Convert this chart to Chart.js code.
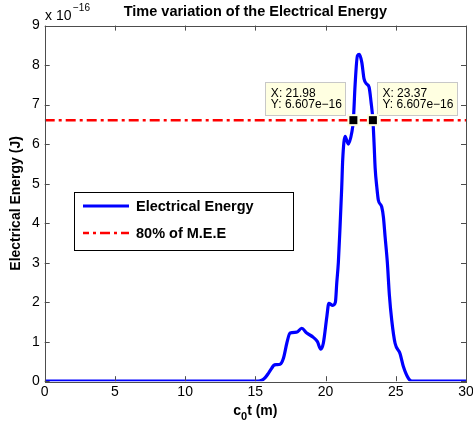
<!DOCTYPE html>
<html><head><meta charset="utf-8">
<script src="https://cdn.jsdelivr.net/npm/chart.js@4/dist/chart.umd.min.js"></script>
<style>html,body{margin:0;padding:0;background:#fff;overflow:hidden}#wrap{width:473px;height:425px;position:relative}</style>
</head><body><div id="wrap"><canvas id="c" width="473" height="425"></canvas></div>
<script>
// c0t (m)
const timeX = [0, 15.2, 15.5, 15.7, 15.93, 16.17, 16.3, 16.5, 16.76, 17.0, 17.24, 17.47, 17.95, 18.3, 18.66, 19.13, 19.42, 19.66, 19.84, 20.09, 20.23, 20.51, 20.7, 20.8, 20.91, 21.03, 21.15, 21.22, 21.39, 21.62, 21.87, 21.98, 22.1, 22.27, 22.4, 22.58, 22.74, 22.93, 23.1, 23.24, 23.37, 23.45, 23.53, 23.65, 23.76, 24.0, 24.12, 24.24, 24.4, 24.54, 24.71, 24.95, 25.3, 25.54, 25.9, 26.14, 30];
// Electrical energy, x 1e-16 J
const energy = [0, 0, 0.03, 0.09, 0.2, 0.33, 0.4, 0.42, 0.43, 0.58, 0.96, 1.22, 1.24, 1.34, 1.22, 1.11, 1.0, 0.81, 0.96, 1.63, 1.97, 1.92, 2.0, 2.5, 3.0, 3.9, 4.9, 5.6, 6.2, 6.0, 6.3, 6.607, 7.48, 8.24, 8.27, 8.07, 7.65, 7.52, 7.44, 7.06, 6.607, 6.05, 5.4, 4.91, 4.58, 4.41, 4.15, 3.65, 3.0, 2.2, 1.55, 0.96, 0.7, 0.37, 0.07, 0, 0];
const thresholdX = [0, 30];
const thresholdY = [6.607, 6.607];
const xTicks = [0, 5, 10, 15, 20, 25, 30];
const yTicks = [0, 1, 2, 3, 4, 5, 6, 7, 8, 9];
const tipX = [21.98, 23.37];
const tipY = [6.607, 6.607];
const tipLabelsX = ['21.98', '23.37'];
const tipLabelsY = ['6.607e\u221216', '6.607e\u221216'];
const seriesNames = ['Electrical Energy', '80% of M.E.E'];

const FONT = 'Arial, "Liberation Sans", sans-serif';
const DASH = [10, 4, 3, 4];

const overlay = {
  id: 'overlay',
  afterDraw(chart) {
    const ctx = chart.ctx, a = chart.chartArea;
    const xs = chart.scales.x, ys = chart.scales.y;
    ctx.save();
    // box
    ctx.strokeStyle = '#4d4d4d'; ctx.lineWidth = 1;
    ctx.strokeRect(Math.round(a.left) + 0.5, Math.round(a.top) + 0.5, Math.round(a.right - a.left), Math.round(a.bottom - a.top));
    // inward ticks
    const tl = 5;
    ctx.beginPath();
    xTicks.forEach(v => {
      const p = Math.round(xs.getPixelForValue(v)) + 0.5;
      ctx.moveTo(p, a.bottom); ctx.lineTo(p, a.bottom - tl);
      ctx.moveTo(p, a.top); ctx.lineTo(p, a.top + tl);
    });
    yTicks.forEach(v => {
      const p = Math.round(ys.getPixelForValue(v)) + 0.5;
      ctx.moveTo(a.left, p); ctx.lineTo(a.left + tl, p);
      ctx.moveTo(a.right, p); ctx.lineTo(a.right - tl, p);
    });
    ctx.stroke();

    // title
    ctx.fillStyle = '#000';
    ctx.font = 'bold 14.5px ' + FONT;
    ctx.textAlign = 'center'; ctx.textBaseline = 'middle';
    ctx.fillText('Time variation of the Electrical Energy', (a.left + a.right) / 2, 12);
    // exponent
    ctx.font = '14px ' + FONT; ctx.textAlign = 'left'; ctx.textBaseline = 'alphabetic';
    ctx.fillText('x 10', 45, 20);
    ctx.font = '10px ' + FONT;
    ctx.fillText('\u221216', 73, 11);
    // x label
    ctx.font = 'bold 14px ' + FONT;
    const cx = (a.left + a.right) / 2;
    const w1 = ctx.measureText('c').width;
    ctx.font = 'bold 11px ' + FONT;
    const w2 = ctx.measureText('0').width;
    ctx.font = 'bold 14px ' + FONT;
    const w3 = ctx.measureText('t (m)').width;
    let sx = cx - (w1 + w2 + w3) / 2;
    const by = 415;
    ctx.fillText('c', sx, by); sx += w1;
    ctx.font = 'bold 11px ' + FONT; ctx.fillText('0', sx, by + 5); sx += w2;
    ctx.font = 'bold 14px ' + FONT; ctx.fillText('t (m)', sx, by);
    // y label
    ctx.save();
    ctx.translate(16, (a.top + a.bottom) / 2);
    ctx.rotate(-Math.PI / 2);
    ctx.textAlign = 'center'; ctx.textBaseline = 'middle';
    ctx.fillText('Electrical Energy (J)', 0, 0);
    ctx.restore();

    // legend
    ctx.fillStyle = '#fff';
    ctx.fillRect(74, 192, 219, 58);
    ctx.strokeStyle = '#000'; ctx.lineWidth = 1;
    ctx.strokeRect(74.5, 192.5, 219, 58);
    ctx.lineWidth = 3; ctx.strokeStyle = '#0000ff';
    ctx.beginPath(); ctx.moveTo(83, 206); ctx.lineTo(129, 206); ctx.stroke();
    ctx.lineWidth = 2.5; ctx.strokeStyle = '#ff0000'; ctx.setLineDash(DASH); ctx.lineDashOffset = 4;
    ctx.beginPath(); ctx.moveTo(83, 233); ctx.lineTo(129, 233); ctx.stroke();
    ctx.setLineDash([]);
    ctx.fillStyle = '#000'; ctx.font = 'bold 14.5px ' + FONT;
    ctx.textAlign = 'left'; ctx.textBaseline = 'middle';
    ctx.fillText(seriesNames[0], 136, 207);
    ctx.fillText(seriesNames[1], 136, 234);

    // data tips
    tipX.forEach((xv, i) => {
      const px = xs.getPixelForValue(xv), py = ys.getPixelForValue(tipY[i]);
      const bw = i === 0 ? 80 : 80, bh = 33;
      const bx = i === 0 ? px - 8 - bw : px + 4;
      const byy = py - 5 - bh;
      ctx.fillStyle = '#ffffe1';
      ctx.fillRect(bx, byy, bw, bh);
      ctx.strokeStyle = '#c8c8c8'; ctx.lineWidth = 1;
      ctx.strokeRect(Math.round(bx) + 0.5, Math.round(byy) + 0.5, bw, bh);
      ctx.fillStyle = '#000'; ctx.font = '12px ' + FONT;
      ctx.textAlign = 'left'; ctx.textBaseline = 'middle';
      ctx.fillText('X: ' + tipLabelsX[i], bx + 5.5, byy + 12);
      ctx.fillText('Y: ' + tipLabelsY[i], bx + 5.5, byy + 23);
      // marker
      ctx.fillStyle = '#ffffe1';
      ctx.fillRect(px - 6, py - 6, 12, 12);
      ctx.fillStyle = '#000';
      ctx.fillRect(px - 4, py - 4, 8, 8);
    });
    ctx.restore();
  }
};

new Chart(document.getElementById('c'), {
  type: 'line',
  data: {
    datasets: [
      {
        label: seriesNames[0],
        data: timeX.map((x, i) => ({ x, y: energy[i] })),
        borderColor: '#0000ff', borderWidth: 3.2, pointRadius: 0,
        cubicInterpolationMode: 'monotone', fill: false
      },
      {
        label: seriesNames[1],
        data: thresholdX.map((x, i) => ({ x, y: thresholdY[i] })),
        borderColor: '#ff0000', borderWidth: 2.5, borderDash: DASH, pointRadius: 0, fill: false
      }
    ]
  },
  options: {
    responsive: false, animation: false, devicePixelRatio: 1,
    layout: { padding: { left: 0, top: 25.6, right: 7, bottom: 0 } },
    plugins: { legend: { display: false }, title: { display: false }, tooltip: { enabled: false } },
    scales: {
      x: {
        type: 'linear', min: 0, max: 30,
        afterBuildTicks: s => { s.ticks = xTicks.map(v => ({ value: v })); },
        afterFit: s => { s.height = 43.8; s.paddingLeft = 0; s.paddingRight = 0; },
        grid: { display: false, drawTicks: false }, border: { display: false },
        ticks: { color: '#000', font: { size: 14, family: FONT }, padding: 3, maxRotation: 0 }
      },
      y: {
        type: 'linear', min: 0, max: 9,
        afterBuildTicks: s => { s.ticks = yTicks.map(v => ({ value: v })); },
        afterFit: s => { s.width = 44.7; s.paddingTop = 0; s.paddingBottom = 0; },
        grid: { display: false, drawTicks: false }, border: { display: false },
        ticks: { color: '#000', font: { size: 14, family: FONT }, padding: 5 }
      }
    }
  },
  plugins: [overlay]
});
</script>
</body></html>
